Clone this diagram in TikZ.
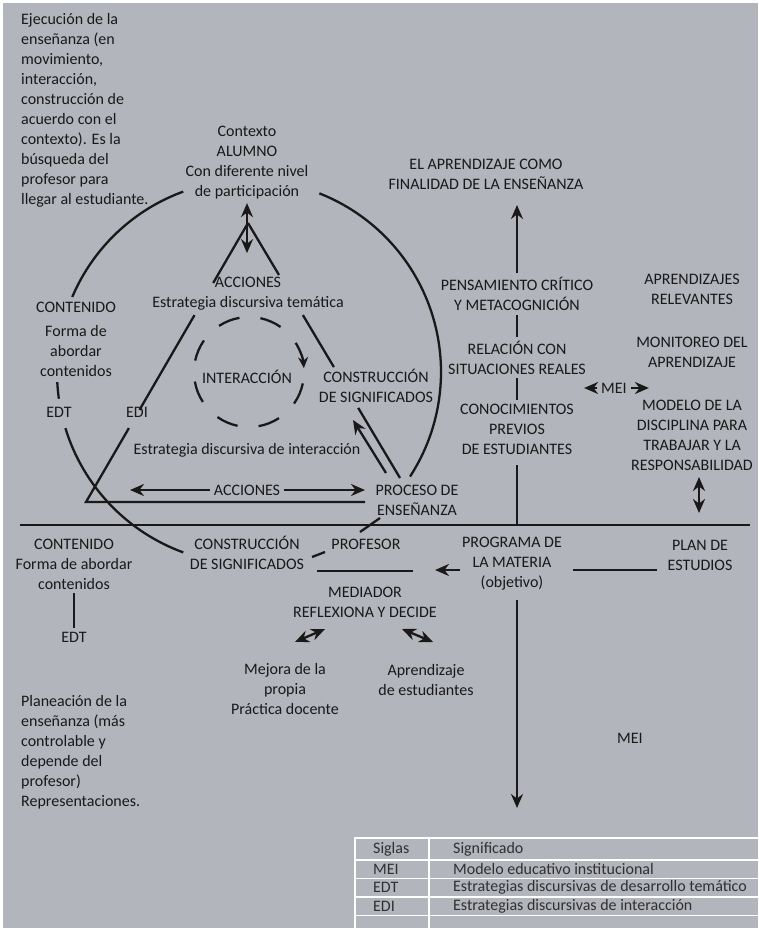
\documentclass[tikz,border=0pt]{standalone}
\usepackage{fontspec}
\setmainfont{Carlito}
\usetikzlibrary{arrows.meta,calc}
\definecolor{fondo}{RGB}{178,182,188}
\definecolor{tinta}{RGB}{26,24,25}

\begin{document}
\begin{tikzpicture}[x=1pt,y=1pt,font=\fontsize{16}{20}\selectfont,
    color=tinta,line width=2.3pt,>={Stealth[length=14pt,width=12pt]},
    txt/.style={align=center,inner sep=3pt},
    para/.style={align=left,anchor=west,inner sep=0pt},
    sigla/.style={anchor=west,inner sep=0pt,text=tinta!90!white}]
    \useasboundingbox (0,0) rectangle (758,-928);
    \fill[white] (0,0) rectangle (758,-928);
    \fill[fondo] (3,-3) rectangle (758,-928);

    % textos de la parte superior
    \node[para] (ejec) at (20,-110) {Ejecución de la\\enseñanza (en\\movimiento,\\interacción,\\construcción de\\acuerdo con el\\contexto). Es la\\búsqueda del\\profesor para\\llegar al estudiante.};
    \node[txt] (ctx) at (247,-162.5) {Contexto\\ALUMNO\\Con diferente nivel\\de participación};
    \node[txt] (accA) at (248,-293.5) {ACCIONES\\Estrategia discursiva temática};
    \node[txt] (contA) at (76,-339) {CONTENIDO\\[4pt]Forma de\\abordar\\contenidos};
    \node[txt] (edtA) at (59,-412) {EDT};
    \node[txt] (edi) at (137,-412) {EDI};
    \node[txt] (inter) at (247,-377) {INTERACCIÓN};
    \node[txt] (consA) at (376,-386) {CONSTRUCCIÓN\\DE SIGNIFICADOS};
    \node[txt] (estI) at (247,-450) {Estrategia discursiva de interacción};
    \node[txt] (accB) at (247,-490) {ACCIONES};
    \node[txt] (proc) at (417,-500) {PROCESO DE\\ENSEÑANZA};
    \node[txt] (fin) at (486,-174) {EL APRENDIZAJE COMO\\FINALIDAD DE LA ENSEÑANZA};
    \node[txt] (pens) at (517,-294) {PENSAMIENTO CRÍTICO\\Y METACOGNICIÓN};
    \node[txt] (rel) at (517,-357.5) {RELACIÓN CON\\SITUACIONES REALES};
    \node[txt] (con) at (517,-429) {CONOCIMIENTOS\\PREVIOS\\DE ESTUDIANTES};
    \node[txt] (apr) at (692,-289.5) {APRENDIZAJES\\RELEVANTES};
    \node[txt] (mon) at (692,-352.5) {MONITOREO DEL\\APRENDIZAJE};
    \node[txt] (meiA) at (614,-388) {MEI};
    \node[txt] (mod) at (692,-435.5) {MODELO DE LA\\DISCIPLINA PARA\\TRABAJAR Y LA\\RESPONSABILIDAD};

    % textos de la parte inferior
    \node[txt] (contB) at (74,-564) {CONTENIDO\\Forma de abordar\\contenidos};
    \node[txt] (edtB) at (74,-637) {EDT};
    \node[txt] (consB) at (247,-553) {CONSTRUCCIÓN\\DE SIGNIFICADOS};
    \node[txt] (prof) at (366,-544) {PROFESOR};
    \node[txt] (prog) at (512,-564) {PROGRAMA DE\\LA MATERIA\\(objetivo)};
    \node[txt] (plan) at (700,-555) {PLAN DE\\ESTUDIOS};
    \node[txt] (med) at (365,-602.5) {MEDIADOR\\REFLEXIONA Y DECIDE};
    \node[txt] (mej) at (285,-689) {Mejora de la\\propia\\Práctica docente};
    \node[txt] (aprE) at (426,-679.5) {Aprendizaje\\de estudiantes};
    \node[txt] (meiB) at (630,-738) {MEI};
    \node[para] (plane) at (20,-752) {Planeación de la\\enseñanza (más\\controlable y\\depende del\\profesor)\\Representaciones.};

    % circulo grande y circulo de interaccion
    \coordinate (cc) at (249,-372);
    \draw ([shift={(110:192)}]cc) arc[start angle=110,end angle=157,radius=192];
    \draw ([shift={(183:192)}]cc) arc[start angle=183,end angle=188,radius=192];
    \draw ([shift={(197:192)}]cc) arc[start angle=197,end angle=250,radius=192];
    \draw ([shift={(-33:192)}]cc) arc[start angle=-33,end angle=68.5,radius=192];
    \foreach \a in {55,100,...,325}
      \draw ([shift={(\a:55)}]cc) arc[start angle=\a,end angle=\a+23,radius=55];
    \draw[-{Stealth[length=11pt,width=10pt]}] ([shift={(32:55)}]cc) arc[start angle=32,end angle=4,radius=55];

    % triangulo
    \coordinate (apex) at (248,-223);
    \coordinate (lv) at (86,-502);
    \coordinate (rv) at (400,-478);
    \coordinate (bv) at (365,-502);
    \draw (apex) -- ($(apex)!0.215!(lv)$);
    \draw ($(apex)!0.33!(lv)$) -- ($(apex)!0.67!(lv)$);
    \draw ($(apex)!0.735!(lv)$) -- (lv) -- (bv);
    \draw (apex) -- ($(apex)!0.204!(rv)$);
    \draw ($(apex)!0.361!(rv)$) -- ($(apex)!0.565!(rv)$);
    \draw ($(apex)!0.725!(rv)$) -- (rv);
    \draw[<->] (ctx.south) -- ++(0,-50);
    \draw[->] (386,-473) -- (353,-420);
    \draw[->] (accB.west) -- (130,-490);
    \draw[->] (accB.east) -- (365,-490);

    % eje horizontal y columna derecha
    \coordinate (ml) at (20,-525);
    \coordinate (mr) at (750,-525);
    \draw (ml) -- (mr);
    \draw[->] (pens.north) -- (517,-205);
    \draw (pens.south) -- (rel.north);
    \draw (rel.south) -- (con.north);
    \draw ([yshift=-7pt]con.south) -- (con.south |- ml);
    \draw[->] (meiA.west) -- ++(-13,0);
    \draw[->] (meiA.east) -- ++(18,0);
    \draw[<->] (699,-477) -- (699,-513);

    % conexiones de abajo
    \draw (contB.south) -- (edtB.north);
    \draw (312,-557) -- (325,-552);
    \draw (380,-518) -- (360,-532);
    \draw (317,-571) -- (413,-571);
    \draw[->] (460,-570) -- (435,-570);
    \draw (573,-570) -- (657,-570);
    \draw[->] (517,-600) -- (517,-808);
    \draw[<->] (295,-642) -- (325,-629);
    \draw[<->] (402,-629) -- (433,-642);

    % tabla de siglas
    \draw[white,line width=1.5pt] (355,-928) -- (355,-838) -- (758,-838);
    \draw[white,line width=1.5pt] (429,-838) -- (429,-928);
    \foreach \y in {860,878.5,897,915.5}
      \draw[white,line width=1.5pt] (355,-\y) -- (758,-\y);
    \node[sigla] (s0) at (372,-849) {Siglas};
    \node[sigla] (d0) at (452,-849) {Significado};
    \node[sigla] (s1) at (372,-869.3) {MEI};
    \node[sigla] (d1) at (452,-869.3) {Modelo educativo institucional};
    \node[sigla] (s2) at (372,-887.8) {EDT};
    \node[sigla] (d2) at (452,-887.8) {Estrategias discursivas de desarrollo temático};
    \node[sigla] (s3) at (372,-906.3) {EDI};
    \node[sigla] (d3) at (452,-906.3) {Estrategias discursivas de interacción};
\end{tikzpicture}
\end{document}
